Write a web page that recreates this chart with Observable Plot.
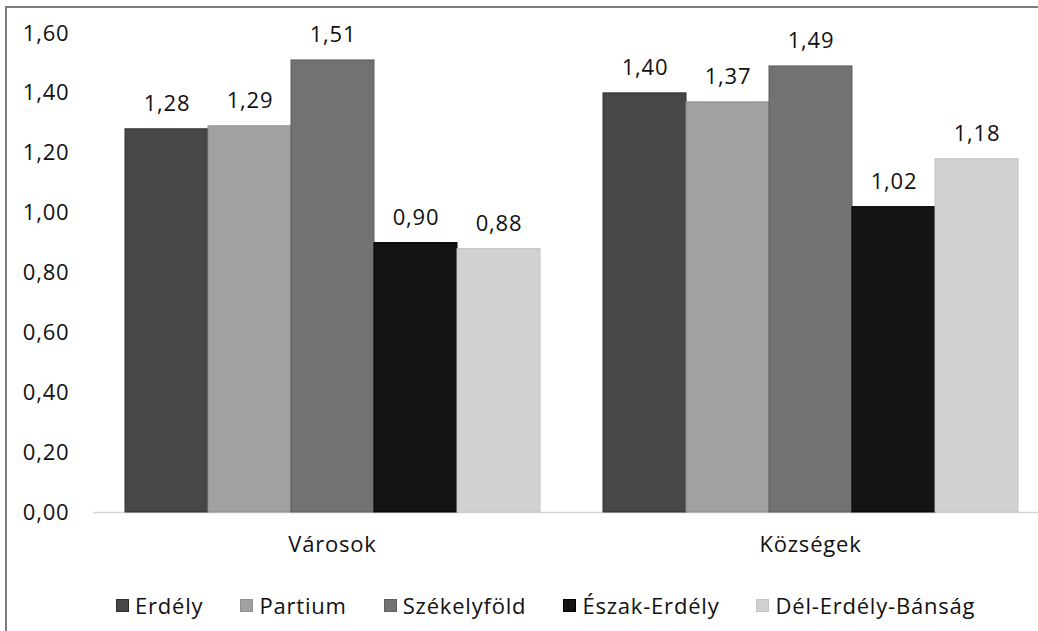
<!DOCTYPE html>
<html>
<head>
<meta charset="utf-8">
<script src="https://cdn.jsdelivr.net/npm/d3@7"></script>
<script src="https://cdn.jsdelivr.net/npm/@observablehq/plot@0.6"></script>
<style>
  html, body { margin: 0; padding: 0; background: #fff; }
  #wrap { position: relative; width: 1038px; height: 631px; overflow: hidden; background: #fff; font-family: "Open Sans", sans-serif; }
  #frame { position: absolute; left: 5px; top: 6px; width: 1100px; height: 700px; border: 2px solid #7d7d7d; box-sizing: border-box; }
  #chart { position: absolute; left: 0; top: 0; }
  #chart svg text { letter-spacing: 0.8px; }
  #legend { position: absolute; left: 116px; top: 590px; display: flex; font-size: 22px; letter-spacing: 0.8px; color: #111; white-space: nowrap; }
  .item { display: flex; align-items: center; margin-right: 37px; }
  .sw { width: 13px; height: 13px; margin-right: 6px; box-sizing: border-box; }
</style>
</head>
<body>
<div id="wrap">
  <div id="frame"></div>
  <div id="chart"></div>
  <div id="legend"></div>
</div>
<script>
const groups = ["Városok", "Községek"];
const series = ["Erdély", "Partium", "Székelyföld", "Észak-Erdély", "Dél-Erdély-Bánság"];
const varosok = [1.28, 1.29, 1.51, 0.90, 0.88];
const kozsegek = [1.40, 1.37, 1.49, 1.02, 1.18];
const colors = ["#474747", "#a1a1a1", "#727272", "#141414", "#d1d1d1"];
const strokes = ["#2e2e2e", "#8f8f8f", "#5e5e5e", "#000000", "#c4c4c4"];
const yTicks = [0, 0.2, 0.4, 0.6, 0.8, 1.0, 1.2, 1.4, 1.6];

const values = {"Városok": varosok, "Községek": kozsegek};
const data = groups.flatMap(g => series.map((s, i) => ({group: g, series: s, value: values[g][i]})));
const fmt = d => d.toFixed(2).replace(".", ",");

const plot = Plot.plot({
  width: 1038,
  height: 580,
  marginTop: 33,
  marginBottom: 68,
  marginLeft: 92,
  marginRight: 0,
  style: {fontFamily: "'Open Sans', sans-serif", fontSize: "22px", color: "#111", background: "transparent"},
  fx: {domain: groups, range: [92.5, 1049.5], paddingInner: 0, paddingOuter: 0, label: null},
  x: {domain: series, paddingInner: 0, paddingOuter: 0.37, axis: null},
  y: {domain: [0, 1.6], label: null},
  color: {domain: series, range: colors},
  marks: [
    Plot.axisY({ticks: yTicks, tickFormat: fmt, tickSize: 0, tickPadding: 24, fontSize: 22, label: null}),
    Plot.axisFx({anchor: "bottom", tickSize: 0, tickPadding: 24, fontSize: 22, label: null}),
    Plot.ruleY([0], {stroke: "#d6d6d6", strokeWidth: 1.5}),
    Plot.barY(data, {fx: "group", x: "series", y: "value", fill: "series",
      stroke: d => strokes[series.indexOf(d.series)], strokeWidth: 1, inset: 0}),
    Plot.text(data, {fx: "group", x: "series", y: "value", text: d => fmt(d.value),
      dy: -25, fontSize: 22, fill: "#111"})
  ]
});
document.getElementById("chart").appendChild(plot);

const legend = document.getElementById("legend");
series.forEach((s, i) => {
  const it = document.createElement("div");
  it.className = "item";
  const sw = document.createElement("div");
  sw.className = "sw";
  sw.style.background = colors[i];
  sw.style.border = "1px solid " + strokes[i];
  const t = document.createElement("span");
  t.textContent = s;
  it.appendChild(sw);
  it.appendChild(t);
  legend.appendChild(it);
});
</script>
</body>
</html>
